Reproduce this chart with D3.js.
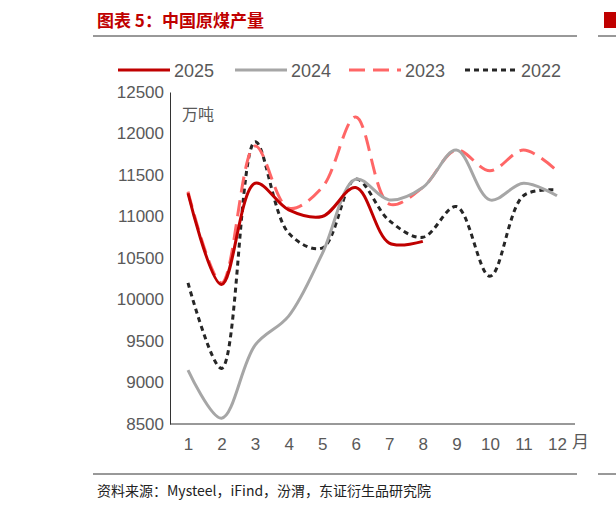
<!DOCTYPE html>
<html><head><meta charset="utf-8">
<script src="https://cdn.jsdelivr.net/npm/d3@7"></script>
<style>body{margin:0;background:#fff}text{font-family:"Liberation Sans",Arial,sans-serif}</style>
</head><body>
<svg id="c" width="616" height="509"></svg>
<script>
const months = [1,2,3,4,5,6,7,8,9,10,11,12];
const yTicks = [8500,9000,9500,10000,10500,11000,11500,12000,12500];
const s2025 = [11280,10180,11400,11080,11000,11350,10680,10700];
const s2024 = [9150,8570,9450,9800,10550,11450,11200,11350,11800,11200,11400,11250];
const s2023 = [11300,10200,11850,11100,11350,12200,11150,11350,11800,11550,11800,11550];
const s2022 = [10200,9170,11900,10800,10620,11450,10950,10750,11120,10280,11250,11320];

const series = [
  {name:"2025", v:s2025, color:"#c00000", dash:null, w:3},
  {name:"2024", v:s2024, color:"#a6a6a6", dash:null, w:3},
  {name:"2023", v:s2023, color:"#ff6666", dash:"16,8", w:3},
  {name:"2022", v:s2022, color:"#262626", dash:"5,4", w:3}
];

const svg = d3.select("#c");
const x = d3.scaleLinear().domain([1,12]).range([188,557]);
const y = d3.scaleLinear().domain([8500,12500]).range([424,92]);

svg.append("text").attr("x",97).attr("y",27).attr("fill","#c00000")
  .style("font-family","'Noto Sans CJK SC'").style("font-weight","bold").style("font-size","17px")
  .text("图表 5：中国原煤产量");
svg.append("line").attr("x1",93).attr("x2",577).attr("y1",36).attr("y2",36).attr("stroke","#333");
svg.append("rect").attr("x",604).attr("y",12).attr("width",12).attr("height",16).attr("fill","#c00000");
svg.append("line").attr("x1",598).attr("x2",616).attr("y1",36).attr("y2",36).attr("stroke","#333");

// legend
const lg = [[118,"2025"],[235,"2024"],[349,"2023"],[465,"2022"]];
series.forEach((s,i)=>{
  const lx = lg[i][0];
  svg.append("line").attr("x1",lx).attr("x2",lx+52).attr("y1",70).attr("y2",70)
    .attr("stroke",s.color).attr("stroke-width",s.w).attr("stroke-dasharray",s.dash);
  svg.append("text").attr("x",lx+56).attr("y",77).attr("font-size",18).attr("fill","#595959").text(s.name);
});

// axes
svg.append("g").attr("transform","translate(170,0)")
  .call(d3.axisLeft(y).tickValues(yTicks).tickSize(0).tickPadding(14).tickFormat(d3.format("d")))
  .call(g=>g.select(".domain").attr("stroke","#333"))
  .call(g=>g.selectAll("text").attr("font-size",17).attr("fill","#595959").attr("text-anchor","end").attr("dx",0).attr("x",-6));
svg.append("g").attr("transform","translate(0,424)")
  .call(d3.axisBottom(x).tickValues(months).tickSize(0).tickPadding(14))
  .call(g=>g.select(".domain").attr("d","M170,0H575").attr("stroke","#333"))
  .call(g=>g.selectAll("text").attr("font-size",17).attr("fill","#595959"));
svg.append("text").attr("x",182).attr("y",120).attr("font-size",16).attr("fill","#595959")
  .style("font-family","'Noto Sans CJK SC'").text("万吨");
svg.append("text").attr("x",572).attr("y",448).attr("font-size",17).attr("fill","#595959")
  .style("font-family","'Noto Sans CJK SC'").text("月");

const line = d3.line().x((d,i)=>x(months[i])).y(d=>y(d)).curve(d3.curveCatmullRom.alpha(0.5));
[...series].reverse().forEach(s=>{
  svg.append("path").attr("d",line(s.v)).attr("fill","none").attr("stroke",s.color)
    .attr("stroke-width",s.w).attr("stroke-dasharray",s.dash);
});

svg.append("line").attr("x1",93).attr("x2",577).attr("y1",474).attr("y2",474).attr("stroke","#333");
svg.append("line").attr("x1",598).attr("x2",616).attr("y1",474).attr("y2",474).attr("stroke","#333");
svg.append("text").attr("x",97).attr("y",496).attr("font-size",14).attr("fill","#222")
  .style("font-family","'Noto Sans CJK SC'").text("资料来源：Mysteel，iFind，汾渭，东证衍生品研究院");
</script>
</body></html>
